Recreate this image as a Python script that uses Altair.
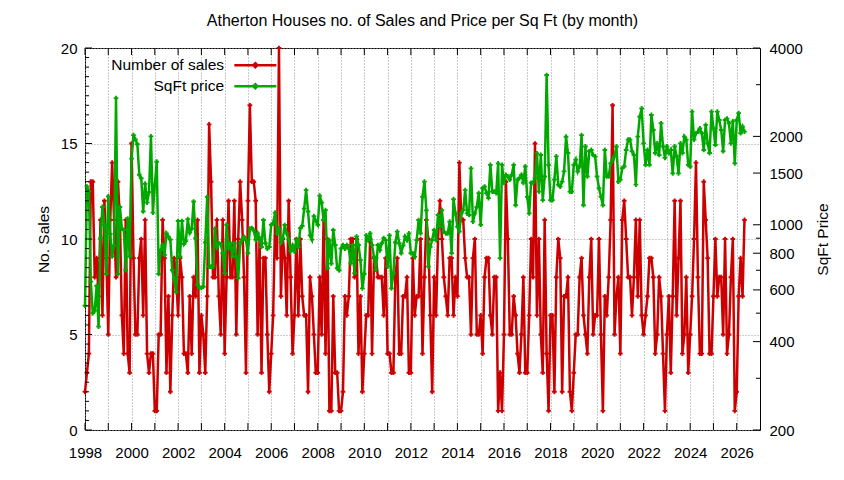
import altair as alt
import pandas as pd

FONT = "Liberation Sans"
RED = "#cc0000"
GREEN = "#00a800"
W, H = 675, 382

# ---- monthly number of sales (Jan 1998 .. May 2026), rows = years ----
sales_1998_2002 = [
    2, 3, 4, 13, 13, 8, 9, 7, 11, 6, 12, 9,
    5, 11, 14, 11, 8, 13, 11, 6, 4, 11, 4, 3,
    15, 9, 5, 5, 9, 10, 6, 11, 4, 3, 4, 4,
    1, 1, 5, 5, 11, 9, 3, 7, 2, 6, 9, 8,
    6, 9, 8, 4, 4, 3, 7, 4, 8, 7, 11, 3,
]
sales_2003_2007 = [
    6, 5, 3, 7, 16, 13, 8, 8, 11, 7, 5, 11,
    4, 8, 12, 8, 8, 12, 5, 10, 13, 11, 8, 3,
    12, 17, 13, 13, 12, 5, 10, 3, 9, 9, 5, 2,
    4, 6, 11, 9, 20, 7, 10, 9, 6, 12, 8, 4,
    6, 10, 6, 10, 7, 6, 6, 2, 8, 7, 5, 3,
]
sales_2008_2012 = [
    3, 8, 5, 11, 4, 10, 1, 1, 7, 3, 3, 1,
    1, 2, 7, 6, 7, 10, 10, 8, 10, 4, 7, 2,
    4, 6, 6, 10, 4, 9, 9, 8, 8, 8, 6, 9,
    4, 4, 3, 3, 8, 9, 4, 4, 7, 7, 8, 3,
    3, 9, 6, 7, 7, 10, 4, 8, 11, 10, 6, 2,
]
sales_2013_2017 = [
    8, 6, 10, 12, 10, 8, 7, 6, 9, 9, 6, 8,
    7, 14, 11, 11, 9, 8, 8, 5, 9, 10, 5, 5,
    6, 4, 8, 9, 9, 6, 5, 8, 8, 1, 3, 1,
    5, 13, 10, 5, 5, 7, 6, 4, 3, 5, 8, 3,
    3, 6, 10, 8, 15, 6, 10, 5, 3, 11, 4, 1,
]
sales_2018_2022 = [
    6, 6, 2, 8, 10, 9, 2, 7, 7, 8, 2, 1,
    3, 5, 5, 8, 9, 6, 5, 4, 8, 10, 5, 6,
    6, 10, 5, 1, 7, 6, 8, 11, 17, 5, 7, 8,
    4, 11, 12, 10, 8, 8, 6, 8, 11, 7, 11, 6,
    5, 6, 7, 9, 9, 8, 4, 5, 8, 7, 4, 1,
]
sales_2023_2026 = [
    5, 7, 3, 7, 12, 6, 9, 12, 4, 5, 8, 3,
    5, 7, 10, 14, 8, 4, 4, 13, 11, 9, 4, 4,
    7, 10, 7, 8, 8, 5, 10, 4, 5, 8, 10, 1,
    2, 7, 9, 7, 11,
]

# ---- monthly price per sq ft ----
price_1998_2002 = [
    530, 1350, 1300, 640, 500, 510, 620, 450, 900, 1150, 1000, 680,
    1250, 930, 780, 850, 2700, 680, 1150, 970, 960, 700, 1050, 780,
    1680, 2020, 1950, 1880, 1480, 1440, 1110, 1380, 1190, 1290, 2000, 1100,
    1370, 1640, 680, 820, 850, 790, 935, 910, 890, 700, 655, 590,
    1030, 780, 1030, 860, 880, 1045, 940, 970, 1200, 900, 625, 610,
]
price_2003_2007 = [
    610, 615, 870, 1245, 720, 720, 720, 970, 840, 865, 860, 800,
    684, 1000, 830, 865, 780, 865, 780, 657, 865, 890, 910, 887,
    800, 970, 975, 955, 890, 935, 900, 840, 1038, 865, 830, 840,
    1000, 1010, 1100, 935, 970, 870, 900, 998, 935, 890, 815, 850,
    810, 890, 840, 973, 990, 1135, 1312, 1110, 920, 890, 1070, 1030,
]
price_2008_2012 = [
    1000, 1257, 1190, 1038, 1122, 711, 887, 737, 960, 853, 711, 700,
    830, 853, 830, 853, 830, 739, 853, 684, 912, 853, 758, 607,
    681, 920, 887, 935, 853, 778, 703, 853, 820, 865, 900, 887,
    720, 920, 607, 684, 870, 948, 865, 800, 850, 912, 887, 935,
    800, 800, 778, 887, 1038, 935, 1245, 1403, 1120, 720, 842, 887,
]
price_2013_2017 = [
    960, 887, 1080, 986, 1122, 948, 935, 935, 1025, 800, 1222, 1094,
    986, 948, 1094, 1122, 1312, 1094, 1080, 1557, 1025, 1094, 1150, 1282,
    1000, 1332, 1349, 1282, 1232, 1600, 1297, 1297, 1282, 1618, 770, 1600,
    1390, 1478, 1460, 1425, 1478, 1600, 1166, 1425, 1442, 1478, 1390, 1580,
    1245, 1094, 1390, 1390, 1442, 1750, 1297, 1729, 1213, 1460, 3237, 1600,
]
price_2018_2022 = [
    1213, 1213, 1425, 1710, 1370, 1349, 1403, 1520, 1995, 1755, 1297, 1297,
    1600, 1665, 1520, 1580, 2020, 1166, 1848, 1460, 1780, 1798, 1729, 1710,
    1460, 1332, 1245, 1166, 1798, 1460, 1460, 1618, 1665, 1710, 1848, 1403,
    1425, 1560, 1580, 1798, 1950, 1950, 1780, 1729, 1370, 1996, 2334, 2490,
    1893, 1600, 1798, 1600, 2366, 2103, 1755, 1893, 1729, 2216, 1848, 1690,
]
price_2023_2026 = [
    1848, 1755, 1798, 1496, 1848, 1710, 1496, 1893, 1755, 1996, 1950, 1600,
    1580, 2428, 1950, 2050, 2076, 2130, 2050, 1798, 2190, 1893, 1755, 2428,
    2130, 1870, 2428, 2274, 2103, 1780, 2274, 2300, 2216, 1893, 2250, 1618,
    2274, 2400, 2050, 2158, 2076,
]

series_names = ["Number of sales", "SqFt price"]
x_tick_years = list(range(1998, 2027))
left_major = [0, 5, 10, 15, 20]
left_minor = [v / 2 for v in range(41) if v % 10 != 0]
right_major = [200, 400, 600, 800, 1000, 1500, 2000, 4000]
right_minor = [300, 500, 700, 900, 3000]

sales = (sales_1998_2002 + sales_2003_2007 + sales_2008_2012
         + sales_2013_2017 + sales_2018_2022 + sales_2023_2026)
price = (price_1998_2002 + price_2003_2007 + price_2008_2012
         + price_2013_2017 + price_2018_2022 + price_2023_2026)
months = [1998 + i / 12 for i in range(len(sales))]

df = pd.DataFrame({"t": months, "sales": sales, "price": price})

x_scale = alt.Scale(domain=[1998, 2027], nice=False, zero=False)
x_axis = alt.Axis(
    values=x_tick_years, format="d",
    labelExpr="datum.value % 2 == 0 ? datum.label : ''",
    grid=True, gridDash=[1, 2], gridColor="#999999", gridWidth=1,
    ticks=False, tickSize=0, domain=False,
    labelFlush=False, labelOverlap=False, labelPadding=15,
    labelFont=FONT, labelFontSize=15, labelColor="black", title=None,
)
x_enc = alt.X("t:Q", scale=x_scale, axis=x_axis)

color_scale = alt.Scale(domain=series_names, range=[RED, GREEN])
# legend key: label on the left, line sample (42px) with a point on the right
legend = alt.Legend(
    title=None, orient="none", legendX=162.6, legendY=9.5, direction="vertical",
    symbolType="M-10.5,0H10.5M0,-1L1,0L0,1L-1,0Z", symbolSize=16,
    symbolStrokeWidth=2.5, labelFont=FONT, labelFontSize=15.5, labelColor="black",
    labelAlign="right", labelOffset={"expr": "-39"}, rowPadding=4, padding=0,
    labelLimit=300,
)

y_left_axis = alt.Axis(
    orient="left", values=left_major, grid=True, gridDash=[1, 2],
    gridColor="#999999", ticks=False, tickSize=0, domain=False,
    labelPadding=8, labelFont=FONT, labelFontSize=15, labelColor="black",
    title="No. Sales", titleFont=FONT, titleFontSize=15.5, titleFontWeight="normal",
    titleColor="black", titleAngle=270, titleX=-41.7, titleY=191,
    titleAlign="center", titleBaseline="middle",
)
y_right_axis = alt.Axis(
    orient="right", values=right_major, format="d", grid=False,
    ticks=False, tickSize=0, domain=False, labelOverlap=False, labelFlush=False,
    labelPadding=9, labelFont=FONT, labelFontSize=15, labelColor="black",
    title="SqFt Price", titleFont=FONT, titleFontSize=15.5, titleFontWeight="normal",
    titleColor="black", titleAngle=270, titleX=62.4, titleY=191,
    titleAlign="center", titleBaseline="middle",
)

point_def = alt.OverlayMarkDef(filled=True, shape="cross", size=22, opacity=1)

sales_layer = alt.Chart(df).transform_calculate(
    series="'Number of sales'"
).mark_line(strokeWidth=2.5, point=point_def).encode(
    x=x_enc,
    y=alt.Y("sales:Q", scale=alt.Scale(domain=[0, 20], nice=False, zero=False), axis=y_left_axis),
    color=alt.Color("series:N", scale=color_scale, legend=legend),
)

price_layer = alt.Chart(df).transform_calculate(
    series="'SqFt price'"
).mark_line(strokeWidth=2.5, point=point_def).encode(
    x=x_enc,
    y=alt.Y("price:Q", scale=alt.Scale(type="log", domain=[200, 4000], nice=False), axis=y_right_axis),
    color=alt.Color("series:N", scale=color_scale, legend=legend),
)

xt = pd.DataFrame({"t": x_tick_years})
bottom_ticks = alt.Chart(xt).mark_rule(color="black", strokeWidth=1).encode(
    x=x_enc, y=alt.value(H), y2=alt.value(H - 7))
top_ticks = alt.Chart(xt).mark_rule(color="black", strokeWidth=1).encode(
    x=x_enc, y=alt.value(0), y2=alt.value(7))

left_scale = alt.Scale(domain=[0, 20], nice=False, zero=False)
right_scale = alt.Scale(type="log", domain=[200, 4000], nice=False)

lmaj = alt.Chart(pd.DataFrame({"v": left_major})).mark_rule(color="black").encode(
    y=alt.Y("v:Q", scale=left_scale, axis=None), x=alt.value(0), x2=alt.value(7))
lmin = alt.Chart(pd.DataFrame({"v": left_minor})).mark_rule(color="black").encode(
    y=alt.Y("v:Q", scale=left_scale, axis=None), x=alt.value(0), x2=alt.value(4))
rmaj = alt.Chart(pd.DataFrame({"v": right_major})).mark_rule(color="black").encode(
    y=alt.Y("v:Q", scale=right_scale, axis=None), x=alt.value(W), x2=alt.value(W - 7))
rmin = alt.Chart(pd.DataFrame({"v": right_minor})).mark_rule(color="black").encode(
    y=alt.Y("v:Q", scale=right_scale, axis=None), x=alt.value(W), x2=alt.value(W - 4))

chart = alt.layer(
    sales_layer, price_layer, bottom_ticks, top_ticks, lmaj, lmin, rmaj, rmin
).resolve_scale(
    y="independent"
).properties(
    width=W, height=H,
    title=alt.TitleParams(
        text="Atherton Houses no. of Sales and Price per Sq Ft (by month)",
        font=FONT, fontSize=16, fontWeight="normal", color="black",
        anchor="middle", offset=12,
    ),
    padding={"left": 77, "top": 40, "right": 76, "bottom": 30},
    autosize=alt.AutoSizeParams(type="none"),
).configure_view(
    stroke="black", strokeWidth=1
)

chart.save("out.html", embed_options={"renderer": "svg", "actions": False})
